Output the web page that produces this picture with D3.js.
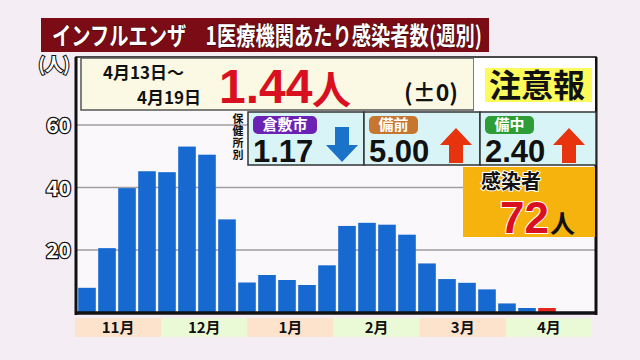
<!DOCTYPE html>
<html><head><meta charset="utf-8">
<script src="https://cdn.jsdelivr.net/npm/d3@7"></script>
<style>
html,body{margin:0;padding:0;background:#f5edf4;}
svg{display:block;}
text{font-family:"Noto Sans CJK JP","Noto Sans",sans-serif;font-weight:700;}
.num{font-family:"Liberation Sans",Arial,sans-serif;font-weight:700;}
</style></head>
<body>
<script>
// ---- data ----
const titleText = "インフルエンザ　1医療機関あたり感染者数(週別)";
const weeks = ["11/3","11/10","11/17","11/24","12/1","12/8","12/15","12/22","12/29","1/5","1/12","1/19","1/26","2/2","2/9","2/16","2/23","3/2","3/9","3/16","3/23","3/30","4/6","4/13"];
const values = [7.9,20.6,39.8,45.2,44.9,53.1,50.5,29.8,9.6,12.0,10.4,8.8,15.1,27.7,28.7,28.1,24.9,15.7,10.7,9.5,7.4,2.9,1.44,1.44];
const months = ["11月","12月","1月","2月","3月","4月"];
const yTicks = [20,40,60];
const periodLines = ["4月13日～","4月19日"];
const currentValue = "1.44";
const changeText = "(±0)";
const alertText = "注意報";
const centerGroupLabel = "保健所別";
const centers = ["倉敷市","備前","備中"];
const centerValues = ["1.17","5.00","2.40"];
const centerTrend = ["down","up","up"];
const centerColors = ["#6b22b4","#c7762f","#2f9d35"];
const patients = "72";

const W = 640, H = 360;
const svg = d3.select("body").append("svg").attr("width",W).attr("height",H);

// background
svg.append("rect").attr("width",W).attr("height",H).attr("fill","#f5edf4");

// title
svg.append("rect").attr("x",41).attr("y",18).attr("width",448).attr("height",34).attr("fill","#7b0c16");
svg.append("text").attr("x",52).attr("y",45).attr("fill","#fff").attr("font-size",25)
  .attr("stroke","#3a0508").attr("stroke-width",1).attr("paint-order","stroke")
  .attr("textLength",430).attr("lengthAdjust","spacingAndGlyphs").text(titleText);

// plot frame area
const frame = {l:76, t:57, r:596, b:313};
svg.append("rect").attr("x",frame.l).attr("y",frame.t).attr("width",frame.r-frame.l).attr("height",frame.b-frame.t).attr("fill","#fbf8fb");

// scales
const y = d3.scaleLinear().domain([0,60]).range([312.5,125]);
const x = d3.scaleBand().domain(weeks).range([77,557]).paddingInner(0.12).paddingOuter(0.06);
const xm = d3.scaleBand().domain(months).range([75,592]).padding(0);

// gridlines
svg.append("g").selectAll("line").data(yTicks).join("line")
  .attr("x1",frame.l).attr("x2",frame.r).attr("y1",d=>y(d)).attr("y2",d=>y(d))
  .attr("stroke","#a09ea0").attr("stroke-width",1.5);

// y tick labels
svg.append("g").selectAll("text").data(yTicks).join("text")
  .attr("x",71).attr("y",d=>y(d)+8).attr("text-anchor","end")
  .attr("font-family","DejaVu Sans").attr("font-size",21)
  .attr("fill","#fff").attr("stroke","#111").attr("stroke-width",2.6).attr("paint-order","stroke")
  .text(d=>d);
svg.append("text").attr("x",54).attr("y",71).attr("text-anchor","middle").attr("font-size",18)
  .attr("fill","#fff").attr("stroke","#111").attr("stroke-width",2.2).attr("paint-order","stroke").text("(人)");

// bars
svg.append("g").selectAll("rect").data(values).join("rect")
  .attr("x",(d,i)=>x(weeks[i])).attr("width",x.bandwidth())
  .attr("y",d=>y(d)).attr("height",d=>y(0)-y(d)+1)
  .attr("fill",(d,i)=>i===values.length-1?"#e5261c":"#1669d1");

// frame lines
svg.append("rect").attr("x",frame.l).attr("y",frame.t).attr("width",frame.r-frame.l).attr("height",frame.b-frame.t)
  .attr("fill","none").attr("stroke","#111").attr("stroke-width",1.5);
svg.append("line").attr("x1",frame.l).attr("x2",frame.l).attr("y1",frame.t).attr("y2",frame.b+2).attr("stroke","#111").attr("stroke-width",3);
svg.append("line").attr("x1",frame.r).attr("x2",frame.r).attr("y1",frame.t).attr("y2",frame.b+2).attr("stroke","#111").attr("stroke-width",3);
svg.append("line").attr("x1",frame.l-1).attr("x2",frame.r+1).attr("y1",frame.b).attr("y2",frame.b).attr("stroke","#111").attr("stroke-width",3.5);

// month bands
const mg = svg.append("g");
mg.selectAll("rect").data(months).join("rect")
  .attr("x",d=>xm(d)).attr("width",xm.bandwidth()).attr("y",318).attr("height",19)
  .attr("fill",(d,i)=>i%2===0?"#fde2cc":"#ebfad6");
mg.selectAll("text").data(months).join("text")
  .attr("x",d=>xm(d)+xm.bandwidth()/2).attr("y",333).attr("text-anchor","middle")
  .attr("font-size",15).attr("fill","#111").text(d=>d);

// info box
svg.append("rect").attr("x",81).attr("y",58).attr("width",393).attr("height",52)
  .attr("fill","#fbf9e3").attr("stroke","#555").attr("stroke-width",1.5);
svg.append("rect").attr("x",474).attr("y",58).attr("width",121).attr("height",54).attr("fill","#fff");
svg.append("text").attr("x",103).attr("y",79).attr("font-size",17).attr("fill","#111").text(periodLines[0]);
svg.append("text").attr("x",201).attr("y",104).attr("text-anchor","end").attr("font-size",17).attr("fill","#111").text(periodLines[1]);
svg.append("text").attr("class","num").attr("x",219).attr("y",103).attr("font-size",48).attr("fill","#d9101f").text(currentValue);
svg.append("text").attr("x",312).attr("y",104).attr("font-size",39).attr("fill","#d9101f").text("人");
svg.append("text").attr("x",404).attr("y",101).attr("font-size",23).attr("fill","#111").text(changeText);
svg.append("rect").attr("x",485).attr("y",68).attr("width",107).attr("height",34).attr("fill","#fbfb5c");
svg.append("text").attr("x",537).attr("y",97).attr("text-anchor","middle").attr("font-size",32).attr("fill","#111").text(alertText);

// health center label (vertical, single text)
svg.append("text").attr("x",238).attr("y",113)
  .style("writing-mode","vertical-rl").style("text-orientation","upright")
  .attr("font-size",11).attr("letter-spacing",1).attr("fill","#111").text(centerGroupLabel);

// health center boxes
const bx = d3.scaleBand().domain(centers).range([248,596]);
const arrowX = [78,76,73];
const cg = svg.append("g").selectAll("g").data(centers).join("g").attr("transform",d=>`translate(${bx(d)},112)`);
cg.append("rect").attr("width",bx.bandwidth()).attr("height",53).attr("fill","#d9f4f7").attr("stroke","#333").attr("stroke-width",1.5);
cg.append("rect").attr("x",5).attr("y",4).attr("width",(d)=>d.length*15+19).attr("height",18).attr("rx",5)
  .attr("fill",(d,i)=>centerColors[i]);
cg.append("text").attr("x",(d)=>5+(d.length*15+19)/2).attr("y",18).attr("text-anchor","middle").attr("font-size",15).attr("fill","#fff").text(d=>d);
cg.append("text").attr("class","num").attr("x",5).attr("y",50).attr("font-size",31).attr("fill","#111").text((d,i)=>centerValues[i]);
function arrowPath(dir){
  const w=32,h=35,hh=17,sw=14;
  const p = dir==="up"
    ? [[w/2,0],[w,hh],[w/2+sw/2,hh],[w/2+sw/2,h],[w/2-sw/2,h],[w/2-sw/2,hh],[0,hh]]
    : [[w/2,h],[w,h-hh],[w/2+sw/2,h-hh],[w/2+sw/2,0],[w/2-sw/2,0],[w/2-sw/2,h-hh],[0,h-hh]];
  return "M"+p.map(q=>q.join(",")).join("L")+"Z";
}
cg.append("path").attr("transform",(d,i)=>`translate(${arrowX[i]},${centerTrend[i]==="down"?15:16})`)
  .attr("d",(d,i)=>arrowPath(centerTrend[i]))
  .attr("fill",(d,i)=>centerTrend[i]==="down"?"#1b72c9":"#e8330f");

// patients box
svg.append("rect").attr("x",463).attr("y",167).attr("width",132).attr("height",70).attr("fill","#f6b30d");
svg.append("text").attr("x",481).attr("y",189).attr("font-size",20).attr("fill","#111")
  .attr("stroke","#fff").attr("stroke-width",2).attr("paint-order","stroke").text("感染者");
svg.append("text").attr("class","num").attr("x",500).attr("y",233).attr("font-size",44).attr("fill","#d9101f")
  .attr("stroke","#fff").attr("stroke-width",2).attr("paint-order","stroke").text(patients);
svg.append("text").attr("x",550).attr("y",233).attr("font-size",25).attr("fill","#111").text("人");
</script>
</body></html>
